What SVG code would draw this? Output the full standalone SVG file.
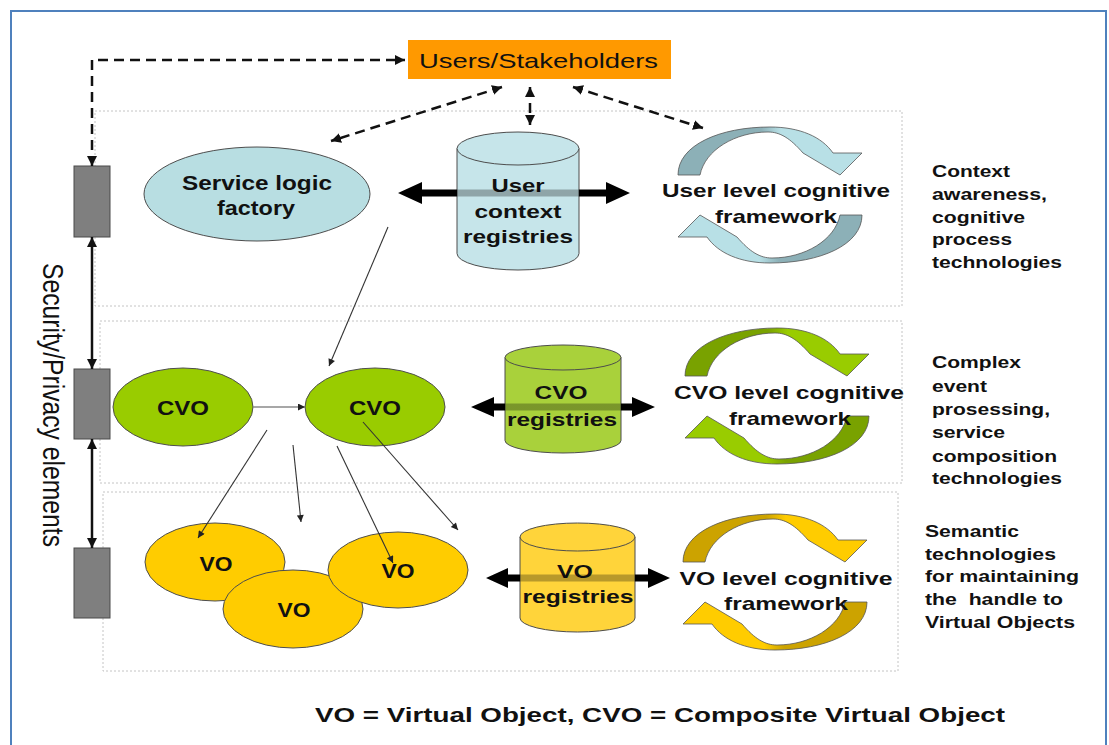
<svg xmlns="http://www.w3.org/2000/svg" xmlns:xlink="http://www.w3.org/1999/xlink" width="1109" height="745" viewBox="0 0 1109 745">
<style>
  text { font-family: 'Liberation Sans', Arial, sans-serif; fill: #111; }
  .b { font-weight: bold; }
  .layer { fill: none; stroke: #c4c4c4; stroke-width: 1; stroke-dasharray: 2 2; }
  .sec { fill: #7f7f7f; stroke: #4a4a4a; stroke-width: 1; }
  .dash { fill: none; stroke: #111; stroke-width: 2.5; stroke-dasharray: 10 6; }
  .solid { fill: none; stroke: #111; stroke-width: 2.5; }
  .thin { fill: none; stroke: #333; stroke-width: 1.1; }
  .edge { stroke: #4d4d4d; stroke-width: 1; }
  .circ { stroke: #555; stroke-width: 0.8; }
</style>
<defs>
  <marker id="ahBig" viewBox="0 0 10 10" refX="10" refY="5" markerWidth="10" markerHeight="10" markerUnits="userSpaceOnUse" orient="auto-start-reverse">
    <path d="M0,0 L10,5 L0,10 z" fill="#111"/>
  </marker>
  <marker id="ahSmall" viewBox="0 0 10 10" refX="10" refY="5" markerWidth="9" markerHeight="7" markerUnits="userSpaceOnUse" orient="auto-start-reverse">
    <path d="M0,0 L10,5 L0,10 z" fill="#222"/>
  </marker>
  <linearGradient id="gUser" x1="0" y1="0" x2="1" y2="0">
    <stop offset="0" stop-color="#8cb0b7"/><stop offset="0.45" stop-color="#8cb0b7"/>
    <stop offset="0.56" stop-color="#b8e0e6"/><stop offset="1" stop-color="#b8e0e6"/>
  </linearGradient>
  <linearGradient id="gCvo" x1="0" y1="0" x2="1" y2="0">
    <stop offset="0" stop-color="#79a200"/><stop offset="0.45" stop-color="#79a200"/>
    <stop offset="0.56" stop-color="#99cc00"/><stop offset="1" stop-color="#99cc00"/>
  </linearGradient>
  <linearGradient id="gVo" x1="0" y1="0" x2="1" y2="0">
    <stop offset="0" stop-color="#cca300"/><stop offset="0.45" stop-color="#cca300"/>
    <stop offset="0.56" stop-color="#ffcc00"/><stop offset="1" stop-color="#ffcc00"/>
  </linearGradient>
  <linearGradient id="gA1" gradientUnits="userSpaceOnUse" x1="398" y1="0" x2="630" y2="0">
    <stop offset="0" stop-color="#000"/><stop offset="0.254" stop-color="#000"/>
    <stop offset="0.254" stop-color="#000" stop-opacity="0.28"/><stop offset="0.78" stop-color="#000" stop-opacity="0.28"/>
    <stop offset="0.78" stop-color="#000"/><stop offset="1" stop-color="#000"/>
  </linearGradient>
  <linearGradient id="gA2" gradientUnits="userSpaceOnUse" x1="471" y1="0" x2="655" y2="0">
    <stop offset="0" stop-color="#000"/><stop offset="0.185" stop-color="#000"/>
    <stop offset="0.185" stop-color="#000" stop-opacity="0.28"/><stop offset="0.815" stop-color="#000" stop-opacity="0.28"/>
    <stop offset="0.815" stop-color="#000"/><stop offset="1" stop-color="#000"/>
  </linearGradient>
  <linearGradient id="gA3" gradientUnits="userSpaceOnUse" x1="486" y1="0" x2="670" y2="0">
    <stop offset="0" stop-color="#000"/><stop offset="0.185" stop-color="#000"/>
    <stop offset="0.185" stop-color="#000" stop-opacity="0.28"/><stop offset="0.81" stop-color="#000" stop-opacity="0.28"/>
    <stop offset="0.81" stop-color="#000"/><stop offset="1" stop-color="#000"/>
  </linearGradient>
  <path id="circ" d="M-92,-20 C-92,-50 -50,-68 0,-68 C30,-68 52,-58 63,-42 L92,-42 L70,-20 L33,-42 C20,-57 10,-63 -2,-63 C-35,-63 -65,-45 -70,-20 Z"/>
</defs>

<rect x="0" y="0" width="1109" height="745" fill="#fff"/>
<rect x="11" y="11" width="1095" height="745" fill="none" stroke="#4f81bd" stroke-width="2"/>

<g id="layers">
  <rect class="layer" x="95" y="111" width="807" height="195"/>
  <rect class="layer" x="100" y="321" width="802" height="162"/>
  <rect class="layer" x="103" y="492" width="795" height="179"/>
</g>

<g id="users">
  <rect x="408" y="40" width="263" height="39" fill="#ff9900"/>
  <text x="419" y="68" font-size="21" textLength="239" lengthAdjust="spacingAndGlyphs">Users/Stakeholders</text>
</g>

<g id="security-1"><rect class="sec" x="74" y="166" width="36" height="71"/></g>
<g id="security-2"><rect class="sec" x="74" y="369" width="36" height="70"/></g>
<g id="security-3"><rect class="sec" x="74" y="548" width="36" height="70"/></g>
<g id="security-label">
  <text transform="translate(43,405) scale(1.2,1) rotate(90)" text-anchor="middle" font-size="24" textLength="284" lengthAdjust="spacingAndGlyphs">Security/Privacy elements</text>
</g>

<g id="service-logic-factory">
  <ellipse cx="257" cy="194" rx="113" ry="47" fill="#b8dee2" class="edge"/>
  <text class="b" x="257" y="190" font-size="20" text-anchor="middle" textLength="150" lengthAdjust="spacingAndGlyphs">Service logic</text>
  <text class="b" x="256" y="215" font-size="20" text-anchor="middle" textLength="78" lengthAdjust="spacingAndGlyphs">factory</text>
</g>

<g id="user-context-registries">
  <path d="M457,148.5 L457,253.5 A61,16.5 0 0 0 579,253.5 L579,148.5 Z" fill="#c6e5ea" class="edge"/>
  <ellipse cx="518" cy="148.5" rx="61" ry="16.5" fill="#c6e5ea" class="edge"/>
  <text class="b" x="518" y="192" font-size="19" text-anchor="middle" textLength="53" lengthAdjust="spacingAndGlyphs">User</text>
  <text class="b" x="518" y="218" font-size="19" text-anchor="middle" textLength="87" lengthAdjust="spacingAndGlyphs">context</text>
  <text class="b" x="518" y="243" font-size="19" text-anchor="middle" textLength="110" lengthAdjust="spacingAndGlyphs">registries</text>
</g>

<g id="user-level-framework">
  <use xlink:href="#circ" href="#circ" class="circ" fill="url(#gUser)" transform="translate(770,195)"/>
  <use xlink:href="#circ" href="#circ" class="circ" fill="url(#gUser)" transform="translate(770,195) rotate(180)"/>
  <text class="b" x="776" y="197" font-size="19" text-anchor="middle" textLength="228" lengthAdjust="spacingAndGlyphs">User level cognitive</text>
  <text class="b" x="776" y="223" font-size="19" text-anchor="middle" textLength="122" lengthAdjust="spacingAndGlyphs">framework</text>
</g>

<g id="cvo-1">
  <ellipse cx="183" cy="407" rx="70" ry="39" fill="#99cc00" class="edge"/>
  <text class="b" x="183" y="415" font-size="20" text-anchor="middle" textLength="52" lengthAdjust="spacingAndGlyphs">CVO</text>
</g>
<g id="cvo-2">
  <ellipse cx="375" cy="407" rx="70" ry="39" fill="#99cc00" class="edge"/>
  <text class="b" x="375" y="415" font-size="20" text-anchor="middle" textLength="52" lengthAdjust="spacingAndGlyphs">CVO</text>
</g>

<g id="cvo-registries">
  <path d="M505,357.5 L505,440.5 A58,12.5 0 0 0 621,440.5 L621,357.5 Z" fill="#a9d13b" class="edge"/>
  <ellipse cx="563" cy="357.5" rx="58" ry="12.5" fill="#a9d13b" class="edge"/>
  <text class="b" x="561" y="399" font-size="19" text-anchor="middle" textLength="53" lengthAdjust="spacingAndGlyphs">CVO</text>
  <text class="b" x="562" y="426" font-size="19" text-anchor="middle" textLength="110" lengthAdjust="spacingAndGlyphs">registries</text>
</g>

<g id="cvo-level-framework">
  <use xlink:href="#circ" href="#circ" class="circ" fill="url(#gCvo)" transform="translate(777,396)"/>
  <use xlink:href="#circ" href="#circ" class="circ" fill="url(#gCvo)" transform="translate(777,396) rotate(180)"/>
  <text class="b" x="789" y="399" font-size="19" text-anchor="middle" textLength="230" lengthAdjust="spacingAndGlyphs">CVO level cognitive</text>
  <text class="b" x="790" y="425" font-size="19" text-anchor="middle" textLength="122" lengthAdjust="spacingAndGlyphs">framework</text>
</g>

<g id="vo-1">
  <ellipse cx="215" cy="562" rx="70" ry="39" fill="#ffcc00" class="edge"/>
  <text class="b" x="216" y="571" font-size="20" text-anchor="middle" textLength="33" lengthAdjust="spacingAndGlyphs">VO</text>
</g>
<g id="vo-2">
  <ellipse cx="293" cy="609" rx="70" ry="39" fill="#ffcc00" class="edge"/>
  <text class="b" x="294" y="617" font-size="20" text-anchor="middle" textLength="33" lengthAdjust="spacingAndGlyphs">VO</text>
</g>
<g id="vo-3">
  <ellipse cx="398" cy="570" rx="70" ry="38" fill="#ffcc00" class="edge"/>
  <text class="b" x="398" y="578" font-size="20" text-anchor="middle" textLength="33" lengthAdjust="spacingAndGlyphs">VO</text>
</g>

<g id="vo-registries">
  <path d="M520,537 L520,618 A57.5,14 0 0 0 635,618 L635,537 Z" fill="#ffd43a" class="edge"/>
  <ellipse cx="577.5" cy="537" rx="57.5" ry="14" fill="#ffd43a" class="edge"/>
  <text class="b" x="575" y="578" font-size="19" text-anchor="middle" textLength="36" lengthAdjust="spacingAndGlyphs">VO</text>
  <text class="b" x="578" y="603" font-size="19" text-anchor="middle" textLength="111" lengthAdjust="spacingAndGlyphs">registries</text>
</g>

<g id="vo-level-framework">
  <use xlink:href="#circ" href="#circ" class="circ" fill="url(#gVo)" transform="translate(775,582)"/>
  <use xlink:href="#circ" href="#circ" class="circ" fill="url(#gVo)" transform="translate(775,582) rotate(180)"/>
  <text class="b" x="786" y="585" font-size="19" text-anchor="middle" textLength="213" lengthAdjust="spacingAndGlyphs">VO level cognitive</text>
  <text class="b" x="786" y="610" font-size="19" text-anchor="middle" textLength="124" lengthAdjust="spacingAndGlyphs">framework</text>
</g>

<g id="desc-user-layer">
  <text class="b" x="932" y="177" font-size="17" textLength="78" lengthAdjust="spacingAndGlyphs">Context</text>
  <text class="b" x="932" y="200" font-size="17" textLength="115" lengthAdjust="spacingAndGlyphs">awareness,</text>
  <text class="b" x="932" y="223" font-size="17" textLength="93" lengthAdjust="spacingAndGlyphs">cognitive</text>
  <text class="b" x="932" y="245" font-size="17" textLength="80" lengthAdjust="spacingAndGlyphs">process</text>
  <text class="b" x="932" y="268" font-size="17" textLength="130" lengthAdjust="spacingAndGlyphs">technologies</text>
</g>
<g id="desc-cvo-layer">
  <text class="b" x="932" y="368" font-size="17" textLength="89" lengthAdjust="spacingAndGlyphs">Complex</text>
  <text class="b" x="932" y="392" font-size="17" textLength="55" lengthAdjust="spacingAndGlyphs">event</text>
  <text class="b" x="932" y="415" font-size="17" textLength="118" lengthAdjust="spacingAndGlyphs">prosessing,</text>
  <text class="b" x="932" y="438" font-size="17" textLength="73" lengthAdjust="spacingAndGlyphs">service</text>
  <text class="b" x="932" y="462" font-size="17" textLength="125" lengthAdjust="spacingAndGlyphs">composition</text>
  <text class="b" x="932" y="484" font-size="17" textLength="130" lengthAdjust="spacingAndGlyphs">technologies</text>
</g>
<g id="desc-vo-layer">
  <text class="b" x="925" y="537" font-size="17" textLength="94" lengthAdjust="spacingAndGlyphs">Semantic</text>
  <text class="b" x="925" y="560" font-size="17" textLength="131" lengthAdjust="spacingAndGlyphs">technologies</text>
  <text class="b" x="925" y="582" font-size="17" textLength="154" lengthAdjust="spacingAndGlyphs">for maintaining</text>
  <text class="b" x="925" y="605" font-size="17" textLength="138" lengthAdjust="spacingAndGlyphs" xml:space="preserve">the  handle to</text>
  <text class="b" x="925" y="628" font-size="17" textLength="150" lengthAdjust="spacingAndGlyphs">Virtual Objects</text>
</g>

<g id="legend">
  <text class="b" x="315" y="722" font-size="21" textLength="690" lengthAdjust="spacingAndGlyphs">VO = Virtual Object, CVO = Composite Virtual Object</text>
</g>

<g id="connectors">
  <path class="dash" d="M92,166 L92,60 L405,60" marker-start="url(#ahBig)" marker-end="url(#ahBig)"/>
  <path class="dash" d="M502,87 L331,141" marker-start="url(#ahBig)" marker-end="url(#ahBig)"/>
  <path class="dash" d="M530,87 L530,125" stroke-dasharray="8 5" marker-start="url(#ahBig)" marker-end="url(#ahBig)"/>
  <path class="dash" d="M573,87 L703,128" marker-start="url(#ahBig)" marker-end="url(#ahBig)"/>
  <path class="solid" d="M92,237 L92,369" marker-start="url(#ahBig)" marker-end="url(#ahBig)"/>
  <path class="solid" d="M92,439 L92,548" marker-start="url(#ahBig)" marker-end="url(#ahBig)"/>
  <polygon points="398,193 422,182 422,189.5 606,189.5 606,182 630,193 606,204 606,196.5 422,196.5 422,204" fill="url(#gA1)"/>
  <polygon points="471,407 494,397 494,403.5 632,403.5 632,397 655,407 632,417 632,410.5 494,410.5 494,417" fill="url(#gA2)"/>
  <polygon points="486,578 508,568 508,574.5 648,574.5 648,568 670,578 648,588 648,581.5 508,581.5 508,588" fill="url(#gA3)"/>
  <path class="thin" d="M388,227 L329,366" marker-end="url(#ahSmall)"/>
  <path d="M253,407 L305,407" fill="none" stroke="#8a8a8a" stroke-width="1.5" marker-end="url(#ahSmall)"/>
  <path class="thin" d="M267,430 L198,538" marker-end="url(#ahSmall)"/>
  <path class="thin" d="M293,445 L301,522" marker-end="url(#ahSmall)"/>
  <path class="thin" d="M337,446 L393,563" marker-end="url(#ahSmall)"/>
  <path class="thin" d="M363,422 L458,530" marker-end="url(#ahSmall)"/>
</g>
</svg>
